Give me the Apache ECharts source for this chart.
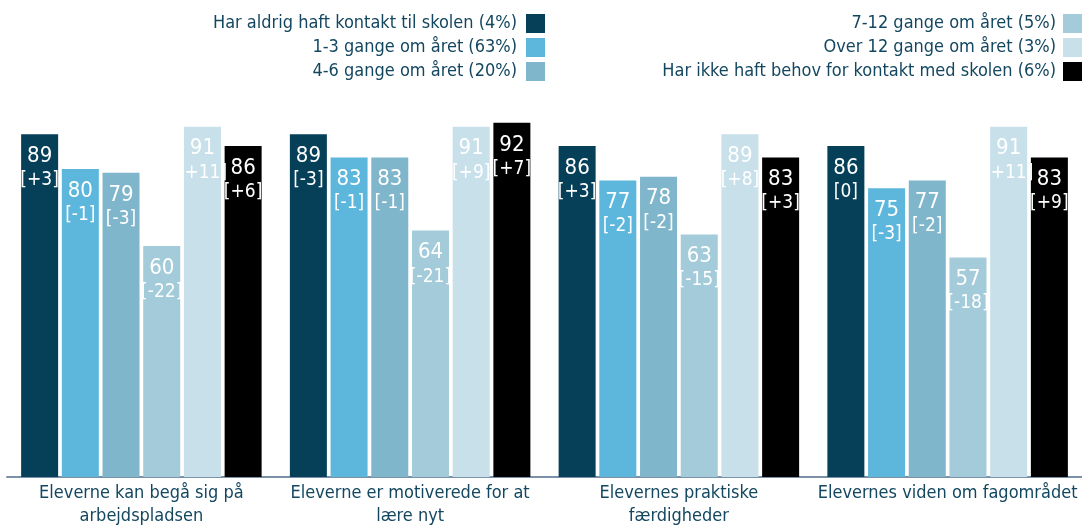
<!DOCTYPE html>
<html><head><meta charset="utf-8">
<script src="https://cdn.jsdelivr.net/npm/echarts@6/dist/echarts.min.js"></script>
<style>html,body{margin:0;padding:0;background:#fff}#c{width:1082px;height:529px}</style>
</head><body><div id="c"></div>
<script>
const categories = ["Eleverne kan begå sig på\narbejdspladsen", "Eleverne er motiverede for at\nlære nyt", "Elevernes praktiske\nfærdigheder", "Elevernes viden om fagområdet"];
const seriesNames = ["Har aldrig haft kontakt til skolen (4%)", "1-3 gange om året (63%)", "4-6 gange om året (20%)", "7-12 gange om året (5%)", "Over 12 gange om året (3%)", "Har ikke haft behov for kontakt med skolen (6%)"];
const colors = ["#053f58", "#5db6dc", "#7fb6cb", "#a3cbd9", "#c7e0ea", "#000000"];
const aldrig = [89, 89, 86, 86];
const g13 = [80, 83, 77, 75];
const g46 = [79, 83, 78, 77];
const g712 = [60, 64, 63, 57];
const over12 = [91, 91, 89, 91];
const ikkeBehov = [86, 92, 83, 83];
const dAldrig = ["+3", "-3", "+3", "0"];
const d13 = ["-1", "-1", "-2", "-3"];
const d46 = ["-3", "-1", "-2", "-2"];
const d712 = ["-22", "-21", "-15", "-18"];
const dOver12 = ["+11", "+9", "+8", "+11"];
const dIkke = ["+6", "+7", "+3", "+9"];

const values = [aldrig, g13, g46, g712, over12, ikkeBehov];
const diffs = [dAldrig, d13, d46, d712, dOver12, dIkke];
const FONT = "'DejaVu Sans Condensed', 'DejaVu Sans', sans-serif";
const TXT = "#134760";

const chart = echarts.init(document.getElementById('c'), null, {renderer: 'canvas'});
const series = values.map((vals, i) => ({
  name: seriesNames[i],
  type: 'bar',
  barWidth: 37,
  barGap: '10%',
  itemStyle: {color: colors[i]},
  data: vals,
  label: {
    show: true,
    position: 'insideTop',
    distance: 10,
    fontFamily: FONT,
    formatter: p => '{v|' + p.value + '}\n{d|[' + diffs[i][p.dataIndex] + ']}',
    rich: {
      v: {fontSize: 22, lineHeight: 24, color: '#fff', fontFamily: FONT},
      d: {fontSize: 19, lineHeight: 24, color: '#fff', fontFamily: FONT}
    }
  }
}));

chart.setOption({
  animation: false,
  backgroundColor: '#fff',
  textStyle: {fontFamily: FONT},
  legend: [
    {data: seriesNames.slice(0, 3), orient: 'vertical', right: 537, top: 14, padding: 0, itemWidth: 19, itemHeight: 19, itemGap: 5, align: 'right', icon: 'rect',
     textStyle: {fontSize: 18, color: TXT, fontFamily: FONT, padding: [0, 4, 0, 0]}},
    {data: seriesNames.slice(3), orient: 'vertical', right: 0, top: 14, padding: 0, itemWidth: 19, itemHeight: 19, itemGap: 5, align: 'right', icon: 'rect',
     textStyle: {fontSize: 18, color: TXT, fontFamily: FONT, padding: [0, 2, 0, 0]}}
  ],
  grid: {left: 7, right: 0, top: 92, bottom: 52, containLabel: false},
  xAxis: {
    type: 'category',
    data: categories,
    axisLine: {lineStyle: {color: '#7a91a8', width: 2}},
    axisTick: {show: false},
    axisLabel: {fontSize: 18, color: TXT, fontFamily: FONT, lineHeight: 23, margin: 5, interval: 0}
  },
  yAxis: {type: 'value', min: 0, max: 100, show: false, splitLine: {show: false}},
  series: series
});
</script></body></html>
